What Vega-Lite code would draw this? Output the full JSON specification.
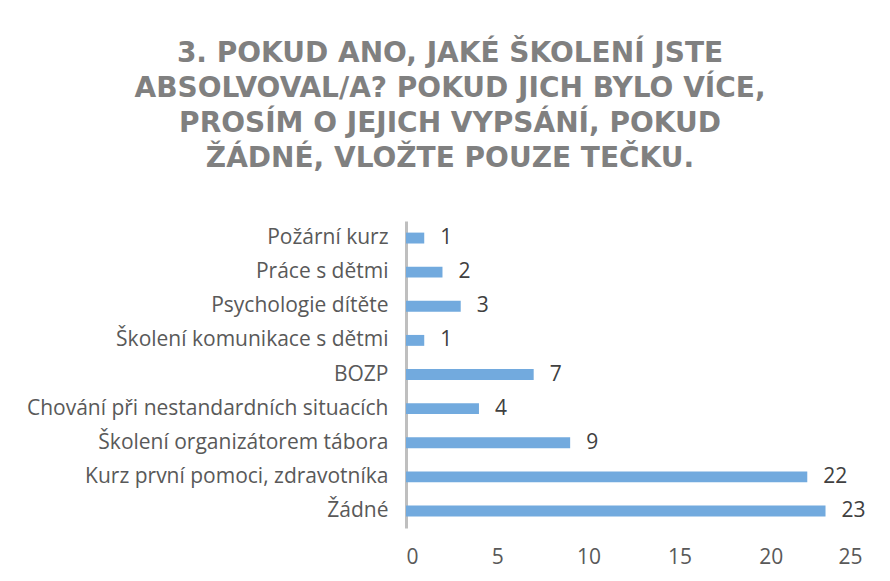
{
  "$schema": "https://vega.github.io/schema/vega-lite/v6.json",
  "autosize": {"type": "none"},
  "padding": {"left": 406, "top": 221, "right": 28, "bottom": 53},
  "width": 456,
  "height": 307,
  "background": "white",
  "title": {
    "text": ["3. POKUD ANO, JAKÉ ŠKOLENÍ JSTE", "ABSOLVOVAL/A? POKUD JICH BYLO VÍCE,", "PROSÍM O JEJICH VYPSÁNÍ, POKUD", "ŽÁDNÉ, VLOŽTE POUZE TEČKU."],
    "anchor": "middle",
    "dx": -184,
    "offset": 48,
    "font": "DejaVu Sans",
    "fontSize": 28,
    "fontWeight": "bold",
    "color": "#808080",
    "lineHeight": 35
  },
  "data": {
    "values": [
      {"kategorie": "Požární kurz", "pocet": 1},
      {"kategorie": "Práce s dětmi", "pocet": 2},
      {"kategorie": "Psychologie dítěte", "pocet": 3},
      {"kategorie": "Školení komunikace s dětmi", "pocet": 1},
      {"kategorie": "BOZP", "pocet": 7},
      {"kategorie": "Chování při nestandardních situacích", "pocet": 4},
      {"kategorie": "Školení organizátorem tábora", "pocet": 9},
      {"kategorie": "Kurz první pomoci, zdravotníka", "pocet": 22},
      {"kategorie": "Žádné", "pocet": 23}
    ]
  },
  "encoding": {
    "y": {
      "field": "kategorie",
      "type": "nominal",
      "sort": null,
      "title": null,
      "scale": {"paddingInner": 0.68, "paddingOuter": 0.34},
      "axis": {
        "domainColor": "#bfbfbf",
        "domainWidth": 3,
        "ticks": false,
        "labelFont": "Open Sans",
        "labelFontSize": 21,
        "labelColor": "#595959",
        "labelPadding": 18,
        "labelLimit": 500
      }
    },
    "x": {
      "field": "pocet",
      "type": "quantitative",
      "title": null,
      "scale": {"domain": [0, 25], "nice": false},
      "axis": {
        "values": [0, 5, 10, 15, 20, 25],
        "grid": false,
        "domain": false,
        "ticks": false,
        "labelFont": "Open Sans",
        "labelFontSize": 21,
        "labelColor": "#595959",
        "labelPadding": 18
      }
    }
  },
  "layer": [
    {"mark": {"type": "bar", "color": "#72aade"}},
    {
      "mark": {"type": "text", "align": "left", "dx": 16, "font": "Open Sans", "fontSize": 21, "color": "#404040"},
      "encoding": {"text": {"field": "pocet", "type": "quantitative"}}
    }
  ],
  "config": {"view": {"stroke": null}}
}
